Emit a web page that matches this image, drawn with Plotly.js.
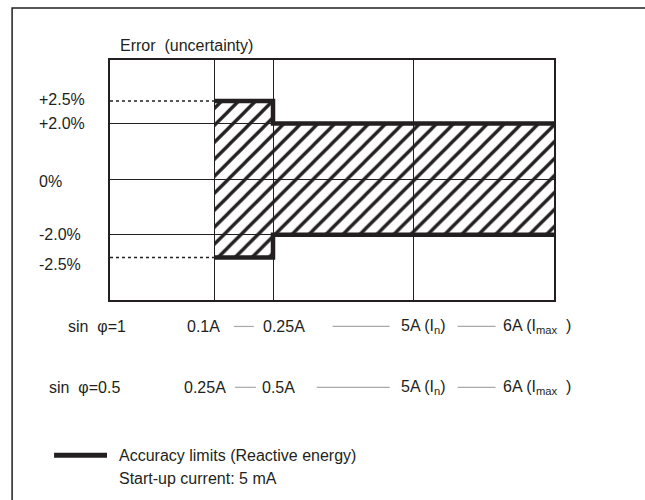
<!DOCTYPE html>
<html>
<head>
<meta charset="utf-8">
<script src="https://cdn.plot.ly/plotly-3.0.1.min.js"></script>
<style>html,body{margin:0;padding:0;background:#fff;}#chart{width:645px;height:500px;}</style>
</head>
<body>
<div id="chart"></div>
<script>
// ---- data ----
const levelValues = [2.5, 2.0, 0, -2.0, -2.5];           // error levels (%)
const levelLabels = ['+2.5%', '+2.0%', '0%', '-2.0%', '-2.5%'];
const upperLimit = [2.5, 2.0];                            // % : 0.1A-0.25A, 0.25A-6A
const lowerLimit = [-2.5, -2.0];
const rowNames = ['sin  \u03c6=1', 'sin  \u03c6=0.5'];
const currentsSin1 = ['0.1A', '0.25A', '5A (I<sub>n</sub>)', '6A (I<sub>max</sub>  )'];
const currentsSin05 = ['0.25A', '0.5A', '5A (I<sub>n</sub>)', '6A (I<sub>max</sub>  )'];
const legendText = 'Accuracy limits (Reactive energy)';
const startupText = 'Start-up current: 5 mA';
const titleText = 'Error  (uncertainty)';

// ---- schematic axis layout (diagram units) ----
const xStops = [0, 104, 163, 303, 444];   // start, 0.1A, 0.25A, 5A, 6A column edges
function dy(v){ const a = Math.abs(v); return Math.sign(v) * (a <= 2 ? a : 2 + (a - 2) * 1.62); }

const ink = '#231f20';
const FONT = 'Liberation Sans, Arial, sans-serif';

const xA = xStops[1], xB = xStops[2], xE = xStops[4];
const topX = [xA, xB, xB, xE], topY = [upperLimit[0], upperLimit[0], upperLimit[1], upperLimit[1]].map(dy);
const botX = [xA, xB, xB, xE], botY = [lowerLimit[0], lowerLimit[0], lowerLimit[1], lowerLimit[1]].map(dy);

const traces = [
  { // hatched accuracy band
    x: [xA, xB, xB, xE, xE, xB, xB, xA, xA],
    y: [upperLimit[0], upperLimit[0], upperLimit[1], upperLimit[1], lowerLimit[1], lowerLimit[1], lowerLimit[0], lowerLimit[0], upperLimit[0]].map(dy),
    mode: 'lines', fill: 'toself', fillcolor: 'rgba(0,0,0,0)',
    fillpattern: {shape: '/', fgcolor: ink, bgcolor: 'rgba(0,0,0,0)', size: 12, solidity: 0.28},
    line: {width: 0}, hoverinfo: 'skip', showlegend: false
  },
  { // dotted reference lines to ±2.5%
    x: [xStops[0], xA], y: [dy(levelValues[0]), dy(levelValues[0])],
    mode: 'lines', line: {color: ink, width: 1.5, dash: 'dot'}, showlegend: false
  },
  {
    x: [xStops[0], xA], y: [dy(levelValues[4]), dy(levelValues[4])],
    mode: 'lines', line: {color: ink, width: 1.5, dash: 'dot'}, showlegend: false
  },
  { x: topX, y: topY, mode: 'lines', line: {color: ink, width: 4.5}, showlegend: false },
  { x: botX, y: botY, mode: 'lines', line: {color: ink, width: 4.5}, showlegend: false }
];

// helpers for paper coordinates
const L = 110, R = 554.5, T = 60, B = 300.5;
const px = p => (p - L) / (R - L);
const py = p => (B - p) / (B - T);

const ann = [];
const txt = (text, x, y, anchor, extra) => Object.assign({text: text, xref: 'paper', yref: 'paper', x: px(x), y: py(y), xanchor: anchor, yanchor: 'middle', showarrow: false, font: {size: 16, color: ink, family: FONT}}, extra || {});
ann.push(txt(titleText, 118, 45, 'left'));
const labShift = [1, 0, -2, 0, -7];
levelValues.forEach((v, i) => {
  ann.push({text: levelLabels[i], xref: 'paper', yref: 'y', x: px(37), y: dy(v), yshift: labShift[i], xanchor: 'left', yanchor: 'middle', showarrow: false, font: {size: 16, color: ink, family: FONT}});
});
function row(yPix, name, nameX, cur, centers) {
  ann.push(txt(name, nameX, yPix, 'left'));
  cur.forEach((c, i) => ann.push(txt(c, centers[i], yPix, 'center')));
}
row(327, rowNames[0], 66, currentsSin1, [204, 284, 423, 537]);
row(388, rowNames[1], 47, currentsSin05, [205, 279, 423, 537]);
ann.push(txt(legendText, 117, 456, 'left'));
ann.push(txt(startupText, 117, 479, 'left'));

const gray = '#a7a9ac';
function hl(x0, x1, y, color, w) { return {type: 'line', xref: 'paper', yref: 'paper', x0: px(x0), x1: px(x1), y0: py(y), y1: py(y), line: {color: color, width: w}}; }
const shapes = [
  {type: 'rect', xref: 'paper', yref: 'paper', x0: px(12), x1: px(700), y0: py(8), y1: py(560), line: {color: ink, width: 1.5}, fillcolor: 'rgba(0,0,0,0)', layer: 'below'},
  hl(234, 254, 327, gray, 1.2), hl(333, 390, 327, gray, 1.2), hl(458, 496, 327, gray, 1.2),
  hl(235, 256, 388, gray, 1.2), hl(317, 390, 388, gray, 1.2), hl(458, 496, 388, gray, 1.2),
  hl(54, 107, 456, ink, 5)
];

const layout = {
  width: 645, height: 500,
  margin: {l: L, r: 645 - R, t: T, b: 500 - B, pad: 0},
  paper_bgcolor: 'white', plot_bgcolor: 'white',
  showlegend: false,
  xaxis: {range: [xStops[0], xStops[4]], tickvals: xStops.slice(1, 4), showticklabels: false, ticks: '',
          showgrid: true, gridcolor: ink, gridwidth: 1, zeroline: false,
          showline: true, mirror: true, linecolor: ink, linewidth: 2, fixedrange: true},
  yaxis: {range: [-4.34, 4.28], tickvals: [dy(levelValues[1]), dy(levelValues[2]), dy(levelValues[3])], showticklabels: false, ticks: '',
          showgrid: true, gridcolor: ink, gridwidth: 1, zeroline: false,
          showline: true, mirror: true, linecolor: ink, linewidth: 2, fixedrange: true},
  annotations: ann,
  shapes: shapes
};
Plotly.newPlot('chart', traces, layout, {staticPlot: true, displayModeBar: false});
</script>
</body>
</html>
